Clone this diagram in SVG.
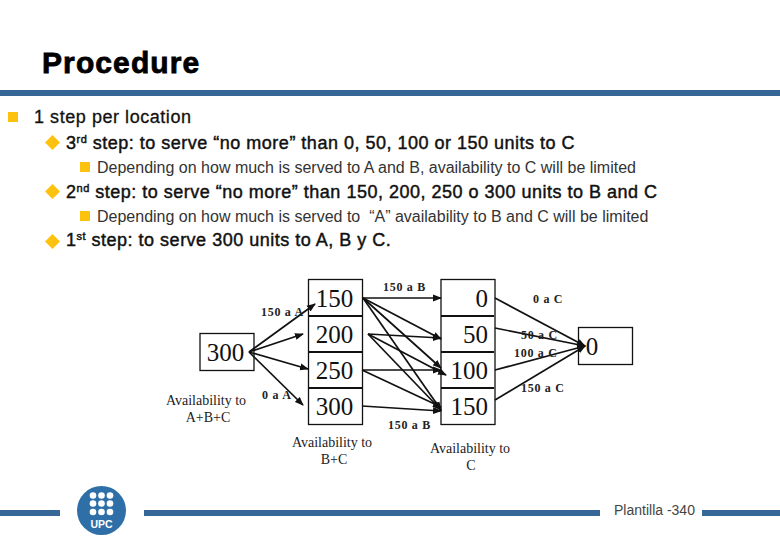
<svg xmlns="http://www.w3.org/2000/svg" width="780" height="540" viewBox="0 0 780 540">
<style>
text{font-family:"Liberation Sans",Arial,sans-serif;fill:#111}
.title{font-size:30px;font-weight:bold;stroke:#000;stroke-width:.8;fill:#000;letter-spacing:1.1px}
.l1{font-size:18px;stroke:#111;stroke-width:.3;letter-spacing:.55px}
.l2{font-size:18px;stroke:#111;stroke-width:.45;letter-spacing:.5px}
.l3{font-size:16px;fill:#333}
.sup{font-size:11px}
.bar{fill:#366796}
.yb{fill:#fdc20f}
.num{font-family:"Liberation Serif",serif;font-size:25px;fill:#111}
.lab{font-family:"Liberation Serif",serif;font-size:12px;font-weight:bold;letter-spacing:.7px;fill:#222}
.cap{font-family:"Liberation Serif",serif;font-size:14px;fill:#222;text-anchor:middle}
.box{fill:#fff;stroke:#111;stroke-width:1.3}
.div{stroke:#111;stroke-width:1.8}
.c{stroke:#111;stroke-width:1.7;fill:none;marker-end:url(#a)}
</style>
<defs>
<marker id="a" markerUnits="userSpaceOnUse" markerWidth="9" markerHeight="8" refX="8" refY="4" orient="auto"><path d="M0 0.500L9 4L0 7.500z" fill="#111"/></marker>
</defs>
<rect width="780" height="540" fill="#fff"/>
<text class="title" x="42" y="73">Procedure</text>
<rect class="bar" x="0" y="90" width="780" height="6"/>
<rect class="yb" x="8" y="112" width="10" height="10"/>
<text class="l1" x="34" y="122.500">1 step per location</text>
<path class="yb" d="M52.500 135L60 142.500L52.500 150L45 142.500z"/>
<text class="l2" x="66" y="148.500">3<tspan class="sup" dy="-6">rd</tspan><tspan dy="6"> step: to serve “no more” than 0, 50, 100 or 150 units to C</tspan></text>
<rect class="yb" x="80" y="162" width="10" height="10"/>
<text class="l3" x="97" y="173">Depending on how much is served to A and B, availability to C will be limited</text>
<path class="yb" d="M52.500 184L60 191.500L52.500 199L45 191.500z"/>
<text class="l2" x="66" y="197.500">2<tspan class="sup" dy="-6">nd</tspan><tspan dy="6"> step: to serve “no more” than 150, 200, 250 o 300 units to B and C</tspan></text>
<rect class="yb" x="80" y="211" width="10" height="10"/>
<text class="l3" x="97" y="221.500" xml:space="preserve">Depending on how much is served to  “A” availability to B and C will be limited</text>
<path class="yb" d="M52.500 234L60 241.500L52.500 249L45 241.500z"/>
<text class="l2" x="66" y="246">1<tspan class="sup" dy="-6">st</tspan><tspan dy="6"> step: to serve 300 units to A, B y C.</tspan></text>
<g id="node-300"><rect class="box" x="200" y="333.500" width="54" height="37"/><text class="num" x="225.500" y="361" text-anchor="middle">300</text></g>
<g id="node-bc"><rect class="box" x="308.500" y="279.500" width="54" height="145"/><path class="div" d="M308 316H362M308 352H362M308 388H362"/>
<text class="num" x="334.500" y="307" text-anchor="middle">150</text><text class="num" x="334.500" y="343" text-anchor="middle">200</text><text class="num" x="334.500" y="379" text-anchor="middle">250</text><text class="num" x="334.500" y="415" text-anchor="middle">300</text></g>
<g id="node-c"><rect class="box" x="441" y="279.500" width="54" height="145"/><path class="div" d="M441 316H494M441 352H494M441 388H494"/>
<text class="num" x="488" y="307" text-anchor="end">0</text><text class="num" x="488" y="343" text-anchor="end">50</text><text class="num" x="488" y="379" text-anchor="end">100</text><text class="num" x="488" y="415" text-anchor="end">150</text></g>
<g id="node-0"><rect class="box" x="578.500" y="327.500" width="54" height="37"/><text class="num" x="592" y="355" text-anchor="middle">0</text></g>
<g id="connectors">
<path class="c" d="M249 352L315 304"/><path class="c" d="M249 352L303 334"/><path class="c" d="M249 352L308 369"/><path class="c" d="M249 352L303 405"/>
<path class="c" d="M363 298L441 298"/><path class="c" d="M363 298L441 339"/><path class="c" d="M363 298L441 368"/><path class="c" d="M363 298L441 410"/>
<path class="c" d="M368 334L441 338"/><path class="c" d="M368 334L446 375"/><path class="c" d="M368 334L441 410"/>
<path class="c" d="M362 370L441 370"/><path class="c" d="M362 370L441 407"/><path class="c" d="M362 406L441 411"/>
<path class="c" d="M495 298L585 346"/><path class="c" d="M495 328L585 346"/><path class="c" d="M495 370L585 346"/><path class="c" d="M495 400L585 346"/>
</g>
<g id="labels">
<text class="lab" x="261" y="316">150 a A</text><text class="lab" x="262" y="399">0 a A</text>
<text class="lab" x="383" y="291">150 a B</text><text class="lab" x="388" y="429">150 a B</text>
<text class="lab" x="533" y="303">0 a C</text><text class="lab" x="521" y="339">50 a C</text><text class="lab" x="514" y="357">100 a C</text><text class="lab" x="521" y="392">150 a C</text>
<text class="cap" x="206" y="405">Availability to</text><text class="cap" x="208" y="422">A+B+C</text>
<text class="cap" x="332" y="447">Availability to</text><text class="cap" x="334" y="464">B+C</text>
<text class="cap" x="470" y="453">Availability to</text><text class="cap" x="471" y="470">C</text>
</g>
<g id="footer">
<rect class="bar" x="0" y="510" width="60" height="6"/><rect class="bar" x="144" y="510" width="456" height="6"/><rect class="bar" x="702" y="510" width="78" height="6"/>
<circle cx="101.500" cy="510.500" r="24.500" fill="#2e6fa8"/>
<g fill="#fff"><circle cx="93" cy="495.500" r="3.300"/><circle cx="101.500" cy="495.500" r="3.300"/><circle cx="110" cy="495.500" r="3.300"/><circle cx="93" cy="503.500" r="3.300"/><circle cx="101.500" cy="503.500" r="3.300"/><circle cx="110" cy="503.500" r="3.300"/><circle cx="93" cy="512" r="3.300"/><circle cx="101.500" cy="512" r="3.300"/><circle cx="110" cy="512" r="3.300"/></g>
<text x="101.500" y="528" text-anchor="middle" font-size="10.500" font-weight="bold" style="fill:#fff">UPC</text>
<text x="614" y="515" font-size="14" style="fill:#444">Plantilla -340</text>
</g>
</svg>
